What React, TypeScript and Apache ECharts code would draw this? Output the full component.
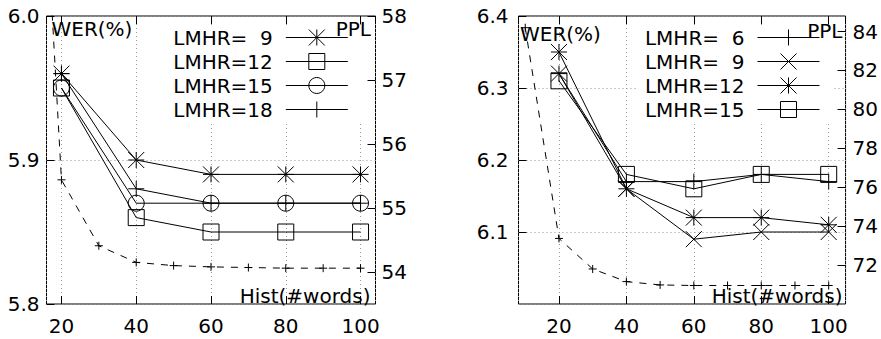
import { useEffect, useRef } from 'react';
import * as echarts from 'echarts';

const FONT = 'DejaVu Sans';

// History length (#words) used for every WER curve
const histWords = [20, 40, 60, 80, 100];
// History lengths at which perplexity was measured
const pplHist = [10, 20, 30, 40, 50, 60, 70, 80, 90, 100];

// Left panel: WER (%) for each LMHR setting
const leftLabels = ['LMHR=  9', 'LMHR=12', 'LMHR=15', 'LMHR=18'];
const leftWer9 = [5.96, 5.9, 5.89, 5.89, 5.89];
const leftWer12 = [5.95, 5.86, 5.85, 5.85, 5.85];
const leftWer15 = [5.95, 5.87, 5.87, 5.87, 5.87];
const leftWer18 = [5.96, 5.88, 5.87, 5.87, 5.87];
const leftPpl = [65.9, 55.44, 54.41, 54.15, 54.1, 54.08, 54.07, 54.06, 54.06, 54.06];

// Right panel: WER (%) for each LMHR setting
const rightLabels = ['LMHR=  6', 'LMHR=  9', 'LMHR=12', 'LMHR=15'];
const rightWer6 = [6.32, 6.17, 6.17, 6.18, 6.17];
const rightWer9 = [6.32, 6.16, 6.09, 6.1, 6.1];
const rightWer12 = [6.35, 6.16, 6.12, 6.12, 6.11];
const rightWer15 = [6.31, 6.18, 6.16, 6.18, 6.18];
const rightPpl = [84.2, 73.37, 71.8, 71.15, 70.98, 70.95, 70.95, 70.95, 70.95, 70.95];

// gnuplot-style open point types
const PLUS = 'path://M0,5L10,5M5,0L5,10';
const CROSS = 'path://M0,0L10,10M10,0L0,10';
const STAR = 'path://M0,5L10,5M5,0L5,10M0,0L10,10M10,0L0,10';
const BOX = 'rect';
const CIRCLE = 'circle';

const pairs = (xs: number[], ys: number[]) => xs.map((x, i) => [x, ys[i]]);

const legendText: Record<string, string> = {
  a9: leftLabels[0],
  a12: leftLabels[1],
  a15: leftLabels[2],
  a18: leftLabels[3],
  b6: rightLabels[0],
  b9: rightLabels[1],
  b12: rightLabels[2],
  b15: rightLabels[3],
};

function werSeries(key: string, symbol: string, panel: number, values: number[]) {
  return {
    type: 'line',
    name: key,
    xAxisIndex: panel * 2,
    yAxisIndex: panel * 2,
    data: pairs(histWords, values),
    symbol,
    symbolSize: 16,
    showAllSymbol: true,
    clip: true,
    lineStyle: { color: '#000', width: 1 },
    itemStyle: { color: 'transparent', borderColor: '#000', borderWidth: 1 },
    emphasis: { disabled: true },
    z: 3,
  };
}

function pplSeries(key: string, panel: number, values: number[]) {
  return {
    type: 'line',
    name: key,
    xAxisIndex: panel * 2,
    yAxisIndex: panel * 2 + 1,
    data: pairs(pplHist, values),
    symbol: PLUS,
    symbolSize: 8,
    showAllSymbol: true,
    clip: true,
    lineStyle: { color: '#000', width: 1, type: [7, 7] },
    itemStyle: { color: 'transparent', borderColor: '#000', borderWidth: 1 },
    emphasis: { disabled: true },
    z: 2,
  };
}

const labelFont = { fontFamily: FONT, fontSize: 20, color: '#000' };
const dotted = { show: true, lineStyle: { color: '#999', width: 1, type: [1, 3] } };
const tickIn = { show: true, inside: true, length: 8, lineStyle: { color: '#000', width: 1 } };

function xAxes(grid: number, min: number, max: number) {
  return [
    {
      type: 'value',
      gridIndex: grid,
      position: 'bottom',
      min,
      max,
      minInterval: 20,
      maxInterval: 20,
      axisLine: { show: false },
      axisTick: tickIn,
      axisLabel: { ...labelFont, margin: 12, showMinLabel: false, showMaxLabel: false },
      splitLine: dotted,
    },
    {
      type: 'value',
      gridIndex: grid,
      position: 'top',
      min,
      max,
      minInterval: 20,
      maxInterval: 20,
      axisLine: { show: false },
      axisTick: tickIn,
      axisLabel: { show: false },
      splitLine: { show: false },
    },
  ];
}

function legend(keys: string[], right: number) {
  return {
    orient: 'vertical',
    align: 'right',
    right,
    top: 27.5,
    itemWidth: 62,
    itemHeight: 20,
    itemGap: 4,
    padding: [0, 14, 3, 8],
    backgroundColor: '#fff',
    selectedMode: false,
    data: keys,
    formatter: (name: string) => legendText[name],
    textStyle: { ...labelFont, padding: [0, 8, 0, 0] },
    itemStyle: { color: 'transparent', borderColor: '#000', borderWidth: 1 },
    lineStyle: { color: '#000', width: 1, type: 'solid' },
    z: 4,
  };
}

function label(text: string, x: number, y: number, align: string) {
  return {
    type: 'text',
    x,
    y,
    z: 20,
    style: {
      text,
      fill: '#000',
      fontFamily: FONT,
      fontSize: 20,
      align,
      verticalAlign: 'middle',
    },
  };
}

export default function App() {
  const ref = useRef<HTMLDivElement>(null);

  useEffect(() => {
    if (!ref.current) return;
    const chart = echarts.init(ref.current, null, { renderer: 'svg' });
    chart.setOption({
      animation: false,
      backgroundColor: '#fff',
      grid: [
        { left: 46.5, top: 16, width: 329, height: 288, show: true, borderColor: '#000', borderWidth: 1, backgroundColor: 'transparent' },
        { left: 518.5, top: 16, width: 329, height: 288, show: true, borderColor: '#000', borderWidth: 1, backgroundColor: 'transparent' },
      ],
      xAxis: [...xAxes(0, 16, 104), ...xAxes(1, 8, 105)],
      yAxis: [
        {
          type: 'value',
          gridIndex: 0,
          position: 'left',
          min: 5.8,
          max: 6.0,
          interval: 0.1,
          axisLine: { show: false },
          axisTick: tickIn,
          axisLabel: { ...labelFont, margin: 7, formatter: (v: number) => v.toFixed(1) },
          splitLine: dotted,
        },
        {
          type: 'value',
          gridIndex: 0,
          position: 'right',
          min: 53.5,
          max: 58,
          minInterval: 1,
          maxInterval: 1,
          axisLine: { show: false },
          axisTick: tickIn,
          axisLabel: { ...labelFont, margin: 6, showMinLabel: false },
          splitLine: { show: false },
        },
        {
          type: 'value',
          gridIndex: 1,
          position: 'left',
          min: 6.0,
          max: 6.4,
          interval: 0.1,
          axisLine: { show: false },
          axisTick: tickIn,
          axisLabel: { ...labelFont, margin: 10, showMinLabel: false, formatter: (v: number) => v.toFixed(1) },
          splitLine: dotted,
        },
        {
          type: 'value',
          gridIndex: 1,
          position: 'right',
          min: 70,
          max: 84.8,
          interval: 2,
          axisLine: { show: false },
          axisTick: tickIn,
          axisLabel: { ...labelFont, margin: 7, showMinLabel: false, showMaxLabel: false },
          splitLine: { show: false },
        },
      ],
      legend: [legend(['a9', 'a12', 'a15', 'a18'], 518.7), legend(['b6', 'b9', 'b12', 'b15'], 47)],
      graphic: [
        label('WER(%)', 51.5, 29, 'left'),
        label('PPL', 371, 29, 'right'),
        label('Hist(#words)', 370.5, 296, 'right'),
        label('WER(%)', 520, 34, 'left'),
        label('PPL', 842.5, 30.5, 'right'),
        label('Hist(#words)', 842.5, 296, 'right'),
      ],
      series: [
        werSeries('a9', STAR, 0, leftWer9),
        werSeries('a12', BOX, 0, leftWer12),
        werSeries('a15', CIRCLE, 0, leftWer15),
        werSeries('a18', PLUS, 0, leftWer18),
        pplSeries('a-ppl', 0, leftPpl),
        werSeries('b6', PLUS, 1, rightWer6),
        werSeries('b9', CROSS, 1, rightWer9),
        werSeries('b12', STAR, 1, rightWer12),
        werSeries('b15', BOX, 1, rightWer15),
        pplSeries('b-ppl', 1, rightPpl),
      ],
    });
    return () => chart.dispose();
  }, []);

  return (
    <div
      ref={ref}
      style={{ position: 'absolute', left: 0, top: 0, width: 881, height: 339, background: '#fff' }}
    />
  );
}
